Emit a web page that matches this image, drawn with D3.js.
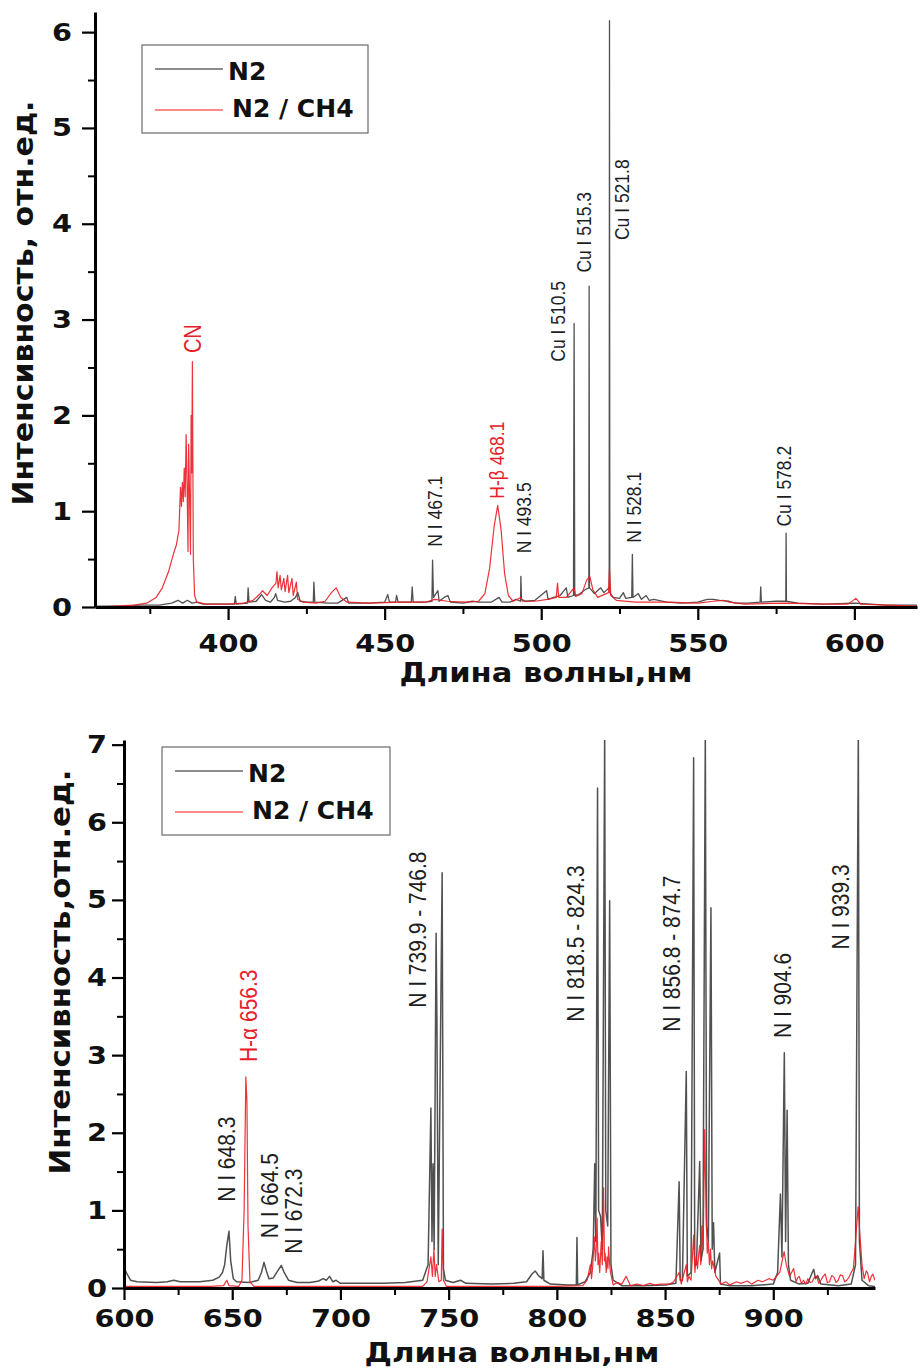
<!DOCTYPE html>
<html>
<head>
<meta charset="utf-8">
<script src="https://cdn.jsdelivr.net/npm/d3@7"></script>
<style>
  body { margin: 0; background: #fff; }
  svg { display: block; }
</style>
</head>
<body>
<svg id="chart" width="920" height="1371"></svg>
<script>
// ---------- Panel 1: 360–620 nm ----------
// [wavelength nm, intensity a.u.]
const n2Blue = [
  [358,0.01],[365,0.01],[372,0.02],[378,0.02],[382,0.04],[384,0.07],[385.5,0.04],[387,0.07],
  [388.5,0.04],[390,0.05],[392,0.03],[396,0.03],[400,0.03],[402,0.03],[402.3,0.11],[402.6,0.03],
  [406.2,0.04],[406.4,0.2],[406.7,0.05],[409,0.06],[410.7,0.13],[412,0.07],[413.5,0.05],[414.8,0.1],
  [415.2,0.14],[415.8,0.07],[418,0.05],[420,0.06],[421.5,0.1],[422.3,0.15],[423,0.06],[425,0.05],
  [427.2,0.05],[427.4,0.26],[427.7,0.05],[432,0.04],[435,0.04],[437.9,0.1],[438.5,0.04],[445,0.04],
  [450,0.05],[451,0.13],[451.5,0.05],[453.5,0.05],[453.8,0.12],[454.3,0.05],[458.5,0.05],[458.8,0.21],
  [459.1,0.05],[463,0.05],[465.1,0.06],[465.3,0.49],[465.6,0.1],[467,0.17],[467.4,0.06],[469,0.1],
  [470.2,0.12],[471,0.05],[475,0.04],[478,0.06],[480,0.05],[484,0.05],[486.5,0.1],[487.5,0.05],
  [490,0.05],[492,0.08],[493.4,0.06],[493.5,0.32],[493.7,0.08],[495,0.06],[498,0.07],[501.7,0.17],
  [502.2,0.08],[504,0.1],[506,0.12],[508,0.2],[508.5,0.1],[510.3,0.12],[510.5,2.96],[510.7,0.12],
  [512,0.13],[514,0.18],[515.2,0.2],[515.3,3.35],[515.4,0.2],[517,0.14],[519,0.2],[520,0.15],
  [521.7,0.2],[521.8,6.12],[521.9,0.15],[523,0.1],[525,0.09],[526.2,0.15],[527,0.09],[528.9,0.1],
  [529.1,0.55],[529.3,0.1],[531,0.14],[532,0.08],[533.5,0.12],[534.5,0.07],[536,0.08],[540,0.05],
  [545,0.04],[550,0.05],[553,0.08],[555,0.08],[557,0.07],[560,0.06],[562,0.04],[566,0.04],
  [569.9,0.05],[570.1,0.21],[570.3,0.05],[575,0.06],[578.1,0.06],[578.2,0.77],[578.3,0.06],[582,0.04],
  [590,0.03],[600,0.04],[610,0.02],[620,0.02]
];
const mixBlue = [
  [358,0.0],[364,0.01],[370,0.02],[374,0.04],[377,0.1],[379,0.2],[381,0.37],[382.5,0.55],
  [383.5,0.65],[384.3,0.8],[384.8,1.25],[385.1,1.05],[385.4,1.3],[385.7,1.1],[386.0,1.45],[386.3,1.15],
  [386.6,1.8],[386.9,1.3],[387.2,0.58],[387.4,1.7],[387.7,1.15],[388.0,0.55],[388.2,2.0],[388.4,1.4],
  [388.6,2.56],[388.9,0.5],[389.3,0.12],[390,0.05],[393,0.03],[400,0.03],[405,0.04],[408,0.07],
  [410,0.13],[411,0.17],[412.5,0.12],[414,0.2],[415.3,0.25],[415.6,0.37],[416,0.2],[416.6,0.33],
  [417,0.18],[417.8,0.3],[418.2,0.16],[419,0.33],[419.4,0.15],[420.4,0.3],[420.8,0.12],[421.8,0.26],
  [422.2,0.08],[424,0.05],[428,0.04],[431,0.06],[433,0.15],[434.5,0.2],[436,0.1],[438,0.05],
  [445,0.04],[455,0.05],[463,0.05],[466,0.08],[470,0.06],[476,0.05],[480,0.06],[482,0.14],
  [483.5,0.4],[485,0.85],[486.1,1.06],[487.2,0.8],[488.3,0.35],[489.5,0.12],[491,0.06],[493.5,0.1],
  [494,0.06],[498,0.06],[502,0.08],[504.8,0.1],[505.2,0.25],[505.6,0.1],[508,0.1],[510.5,0.2],
  [511,0.11],[513,0.14],[514.5,0.28],[515.5,0.32],[516.5,0.18],[518,0.1],[521.5,0.15],[521.8,0.4],
  [522.2,0.12],[524,0.07],[530,0.05],[540,0.05],[550,0.04],[555,0.06],[558,0.07],[560,0.05],
  [565,0.03],[578,0.04],[590,0.03],[598,0.03],[600.5,0.09],[602,0.03],[620,0.01]
];
const lineTextBlue = ["CN","N I 467.1","H-β 468.1","N I 493.5","Cu I 510.5","Cu I 515.3","Cu I 521.8","N I 528.1","Cu I 578.2"];
const lineWlBlue   = [388.7, 466.1, 486.0, 494.5, 505.5, 513.8, 525.9, 529.6, 577.5];
const lineAtBlue   = [2.65, 0.63, 1.13, 0.56, 2.56, 3.49, 3.83, 0.67, 0.84];
const lineSetBlue  = ["mix","n2","mix","n2","n2","n2","n2","n2","n2"];
const xTicksBlue = [400, 450, 500, 550, 600];
const yTicksBlue = [0, 1, 2, 3, 4, 5, 6];

// ---------- Panel 2: 600–947 nm ----------
const n2Red = [
  [600,0.28],[601,0.2],[603,0.1],[606,0.08],[615,0.07],[620,0.08],[623,0.1],[626,0.08],
  [635,0.08],[641,0.1],[644,0.14],[645.5,0.2],[646.5,0.3],[647.5,0.55],[648.5,0.73],[649.3,0.35],
  [650.5,0.12],[652,0.08],[658,0.07],[662,0.1],[663.5,0.2],[664.7,0.33],[665.8,0.22],[667,0.12],
  [669,0.13],[671,0.22],[672.7,0.29],[674,0.2],[676,0.1],[680,0.07],[686,0.07],[690,0.09],
  [692,0.12],[693.5,0.1],[695,0.15],[696.5,0.08],[698,0.1],[700,0.06],[710,0.06],[720,0.06],
  [730,0.07],[738,0.1],[740.5,0.3],[741.8,2.32],[742.3,0.6],[742.8,1.6],[743.3,0.5],[744.2,4.57],
  [744.6,3.4],[745.2,0.3],[747.0,5.35],[747.6,0.25],[748.5,0.1],[752,0.07],[755.5,0.1],[758,0.06],
  [770,0.05],[780,0.06],[786,0.08],[788.5,0.18],[790,0.22],[791.5,0.16],[793.2,0.12],[793.6,0.48],
  [794,0.1],[797,0.05],[805,0.04],[809,0.04],[809.3,0.65],[809.6,0.04],[813,0.08],[815.5,0.2],
  [816.8,0.5],[817.5,1.6],[818,0.6],[818.8,6.44],[819.3,1.0],[820.2,0.92],[821,0.5],[822.1,7.2],
  [822.6,1.0],[823.5,0.8],[824.4,4.99],[825,0.3],[826,0.1],[830,0.03],[840,0.03],[850,0.04],
  [855,0.06],[856.5,1.37],[857,0.1],[858,0.1],[859.8,2.79],[860.3,0.15],[862,0.2],[863.2,6.83],
  [863.7,0.3],[864.5,0.3],[866,1.63],[866.6,0.35],[867.5,0.5],[868.6,7.2],[869.2,0.8],[870,0.6],
  [871.2,4.9],[871.8,0.5],[872.4,0.84],[873,0.2],[875.2,0.45],[875.6,0.05],[880,0.03],[890,0.03],
  [900,0.05],[902,0.2],[903.3,1.21],[904,0.4],[905.1,3.03],[905.7,0.6],[906.4,2.29],[907,0.3],
  [908,0.1],[912,0.05],[916,0.06],[918,0.2],[918.7,0.24],[919.5,0.12],[920.5,0.16],[922,0.05],
  [930,0.03],[936,0.05],[938,0.3],[939.3,7.2],[939.8,0.6],[941,0.1],[944,0.03],[947,0.02]
];
const mixRed = [
  [600,0.02],[640,0.02],[646,0.03],[647.5,0.1],[648.5,0.03],[653,0.02],[654.5,0.1],[655.5,1.0],
  [656.3,2.72],[656.8,2.4],[657.3,0.8],[658.2,0.08],[660,0.02],[700,0.02],[738,0.02],[740,0.08],
  [741.8,0.4],[742.5,0.15],[743.2,0.5],[743.8,0.15],[744.4,0.3],[745.5,0.08],[746.6,0.1],[747,0.76],
  [747.6,0.1],[749,0.02],[800,0.02],[812,0.03],[814,0.1],[815.5,0.3],[816,0.12],[816.5,0.25],
  [817.3,0.66],[817.8,0.35],[818.2,0.5],[818.6,0.9],[819,0.3],[819.3,0.45],[819.8,0.2],[820.5,0.6],
  [821,0.3],[821.6,1.29],[822,0.35],[822.3,0.45],[822.8,0.2],[823.2,0.4],[823.6,0.25],[823.9,0.53],
  [824.4,0.3],[824.8,0.2],[826,0.04],[828,0.07],[830,0.05],[832,0.15],[834,0.03],[837,0.05],
  [840,0.03],[843,0.06],[845,0.04],[848,0.05],[852,0.05],[854,0.08],[856.5,0.2],[857.5,0.05],
  [859.8,0.3],[860.3,0.08],[861,0.15],[862,0.1],[863.2,0.68],[863.8,0.2],[864.4,0.4],[865,0.25],
  [865.6,0.45],[866,0.55],[866.5,0.3],[867,0.8],[867.6,0.5],[868.3,2.04],[869,0.9],[869.5,0.45],
  [870,0.6],[870.5,0.3],[871,0.5],[871.5,0.25],[872,0.35],[873.5,0.15],[876,0.05],[878,0.08],
  [880,0.04],[883,0.08],[885,0.06],[888,0.09],[890,0.05],[893,0.1],[895,0.08],[898,0.12],
  [900,0.1],[903,0.2],[905,0.47],[906,0.3],[907.5,0.15],[909.4,0.25],[910.5,0.08],[911.3,0.13],
  [912,0.15],[913,0.06],[914,0.1],[915,0.05],[916,0.12],[917,0.07],[918,0.08],[919,0.14],
  [920,0.15],[921,0.06],[922,0.1],[923,0.15],[924,0.18],[925,0.07],[926,0.08],[927,0.16],
  [928,0.14],[929,0.07],[930,0.1],[931,0.17],[932,0.16],[933,0.08],[934,0.1],[935,0.14],
  [936,0.2],[937,0.25],[938,0.6],[939.2,1.05],[940,0.7],[941,0.3],[942,0.12],[943,0.22],
  [943.5,0.2],[944.5,0.08],[945.3,0.15],[946,0.18],[947,0.1]
];
const lineTextRed = ["H-α 656.3","N I 648.3","N I 664.5","N I 672.3","N I 739.9 - 746.8","N I 818.5 - 824.3","N I 856.8 - 874.7","N I 904.6","N I 939.3"];
const lineWlRed   = [657.3, 647.5, 667.0, 678.1, 735.5, 808.5, 852.7, 904.4, 931.0];
const lineAtRed   = [2.91, 1.11, 0.64, 0.44, 3.61, 3.43, 3.30, 3.22, 4.36];
const lineSetRed  = ["mix","n2","n2","n2","n2","n2","n2","n2","n2"];
const xTicksRed = [600, 650, 700, 750, 800, 850, 900];
const yTicksRed = [0, 1, 2, 3, 4, 5, 6, 7];

const seriesNames = ["N2", "N2 / CH4"];

// ---------- drawing ----------
const svg = d3.select("#chart");
const BOLD = "'DejaVu Sans', Verdana, sans-serif";
const THIN = "'Liberation Sans', Arial, sans-serif";
const colN2 = "#333333", colMix = "#ec1c24";
const legN2 = "#8c8c8c", legMix = "#ff8a8a";

function panel(o) {
  const g = svg.append("g");
  const x = d3.scaleLinear().domain(o.xDom).range([o.left, o.right]);
  const y = d3.scaleLinear().domain(o.yDom).range([o.bottom, o.top]);

  const clipId = "clip" + o.id;
  svg.append("defs").append("clipPath").attr("id", clipId)
    .append("rect").attr("x", o.left).attr("y", o.top)
    .attr("width", o.right - o.left).attr("height", o.bottom - o.top + 1);

  const line = d3.line().x(d => x(d[0])).y(d => y(d[1]));
  const plot = g.append("g").attr("clip-path", `url(#${clipId})`);
  plot.append("path").datum(o.n2).attr("d", line)
    .attr("fill", "none").attr("stroke", colN2).attr("stroke-width", o.n2Width)
    .attr("stroke-linejoin", "round").attr("stroke-opacity", 0.85);
  plot.append("path").datum(o.mix).attr("d", line)
    .attr("fill", "none").attr("stroke", colMix).attr("stroke-width", 1.2)
    .attr("stroke-linejoin", "round").attr("stroke-opacity", 0.9);

  // minor ticks
  const xMinor = d3.range(Math.ceil(o.xDom[0] / 25) * 25, o.xDom[1], 25).filter(v => v % 50 !== 0);
  const yMinor = d3.range(0.5, o.yDom[1], 1);
  g.append("g").attr("transform", `translate(0,${o.bottom})`)
    .call(d3.axisBottom(x).tickValues(xMinor).tickSize(7).tickFormat(""))
    .call(a => a.select(".domain").remove())
    .call(a => a.selectAll("line").attr("stroke-width", 2));
  g.append("g").attr("transform", `translate(${o.left},0)`)
    .call(d3.axisLeft(y).tickValues(yMinor).tickSize(7).tickFormat(""))
    .call(a => a.select(".domain").remove())
    .call(a => a.selectAll("line").attr("stroke-width", 2));

  // major axes
  const fmt = d3.format("d");
  const ax = g.append("g").attr("transform", `translate(0,${o.bottom})`)
    .call(d3.axisBottom(x).tickValues(o.xTicks).tickFormat(fmt)
      .tickSize(o.tick).tickSizeOuter(0).tickPadding(o.xPad));
  const ay = g.append("g").attr("transform", `translate(${o.left},0)`)
    .call(d3.axisLeft(y).tickValues(o.yTicks).tickFormat(fmt)
      .tickSize(o.tick).tickSizeOuter(0).tickPadding(o.yPad));
  [ax, ay].forEach(a => {
    a.select(".domain").attr("stroke-width", 3);
    a.selectAll(".tick line").attr("stroke-width", 2.2);
    a.selectAll("text").attr("font-family", BOLD).attr("font-weight", "bold")
      .attr("font-size", 25).attr("fill", "#111")
      .attr("lengthAdjust", "spacingAndGlyphs");
  });
  ax.selectAll("text").attr("textLength", 60);
  ay.selectAll("text").attr("textLength", 20);

  // spectral line labels
  o.lblText.forEach((t, i) => {
    g.append("text")
      .attr("transform", `translate(${x(o.lblWl[i])},${y(o.lblAt[i])}) rotate(-90) scale(1,1.18)`)
      .attr("dominant-baseline", "central")
      .attr("font-family", THIN)
      .attr("font-size", t === "CN" ? 20 : o.lblSize)
      .attr("fill", o.lblSet[i] === "mix" ? "#e8202a" : "#1e1e1e")
      .text(t);
  });

  // axis titles
  g.append("text")
    .attr("x", o.xTitle[0]).attr("y", o.xTitle[1])
    .attr("text-anchor", "middle").attr("font-family", BOLD).attr("font-weight", "bold")
    .attr("font-size", 27).attr("fill", "#111")
    .attr("textLength", o.xTitle[2]).attr("lengthAdjust", "spacingAndGlyphs")
    .text("Длина волны,нм");
  g.append("text")
    .attr("transform", `translate(${o.yTitle[0]},${o.yTitle[1]}) rotate(-90)`)
    .attr("text-anchor", "middle").attr("font-family", BOLD).attr("font-weight", "bold")
    .attr("font-size", 28).attr("fill", "#111")
    .attr("textLength", 405).attr("lengthAdjust", "spacingAndGlyphs")
    .text(o.yLabel);

  // legend
  const L = o.legend;
  g.append("rect").attr("x", L.x).attr("y", L.y).attr("width", L.w).attr("height", L.h)
    .attr("fill", "#fff").attr("stroke", "#6a6a6a").attr("stroke-width", 1.2);
  [[legN2, 24, 35, 86], [legMix, 65, 72, 90]].forEach((s, i) => {
    g.append("line").attr("x1", L.x + 13).attr("x2", L.x + 81)
      .attr("y1", L.y + s[1]).attr("y2", L.y + s[1])
      .attr("stroke", s[0]).attr("stroke-width", 2);
    g.append("text").attr("x", L.x + s[3]).attr("y", L.y + s[2])
      .attr("font-family", BOLD).attr("font-weight", "bold").attr("font-size", 25)
      .attr("fill", "#111").text(seriesNames[i]);
  });
}

panel({
  id: "a", xDom: [357.5, 620], yDom: [0, 6.21],
  left: 95, right: 917, top: 12, bottom: 607,
  n2: n2Blue, mix: mixBlue, n2Width: 1.3,
  xTicks: xTicksBlue, yTicks: yTicksBlue, tick: 13, xPad: 14, yPad: 10,
  lblText: lineTextBlue, lblWl: lineWlBlue, lblAt: lineAtBlue, lblSet: lineSetBlue, lblSize: 17.5,
  xTitle: [546, 682, 293], yTitle: [33, 303], yLabel: "Интенсивность, отн.ед.",
  legend: { x: 142, y: 45, w: 226, h: 88 }
});

panel({
  id: "b", xDom: [600, 947], yDom: [0, 7.06],
  left: 124, right: 875, top: 740, bottom: 1288,
  n2: n2Red, mix: mixRed, n2Width: 1.5,
  xTicks: xTicksRed, yTicks: yTicksRed, tick: 12, xPad: 9, yPad: 5,
  lblText: lineTextRed, lblWl: lineWlRed, lblAt: lineAtRed, lblSet: lineSetRed, lblSize: 21,
  xTitle: [512, 1362, 295], yTitle: [70, 972], yLabel: "Интенсивность,отн.ед.",
  legend: { x: 162, y: 747, w: 228, h: 88 }
});
</script>
</body>
</html>
